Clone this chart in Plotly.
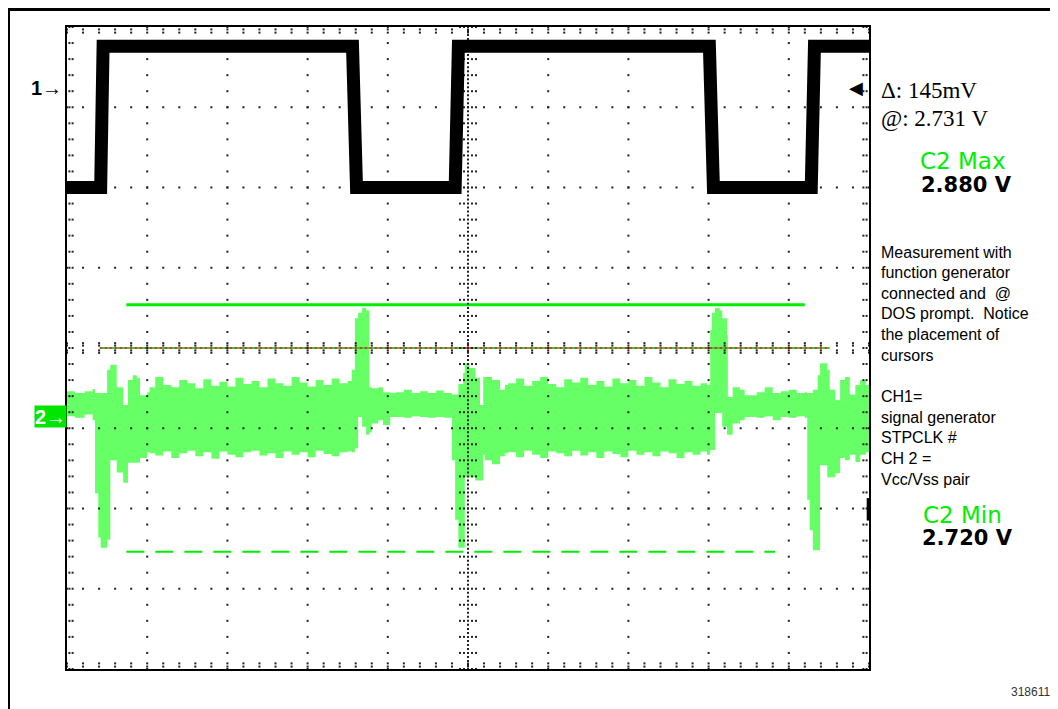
import numpy as np
import plotly.graph_objects as go

# ---------------- data (screen divisions: x 0..10, y -4..4) ----------------
# Channel 1: STPCLK# square wave
ch1_x = [0.00, 0.42, 0.45, 3.56, 3.61, 4.84, 4.88, 8.01, 8.06, 9.28, 9.32, 10.00]
ch1_y = [2.00, 2.00, 3.76, 3.76, 2.00, 2.00, 3.76, 3.76, 2.00, 2.00, 3.76, 3.76]

# Channel 2: Vcc/Vss noise envelope (top / bottom of the persistence band)
ch2_x = [0.00, 0.10, 0.22, 0.32, 0.35, 0.39, 0.42, 0.50, 0.54, 0.62, 0.70, 0.76, 0.82, 0.87, 0.91, 1.00, 1.03,
         1.10, 1.20, 1.30, 1.40, 1.50, 1.60, 1.70, 1.80, 1.90, 2.00, 2.10, 2.20, 2.30, 2.40, 2.50, 2.60, 2.70,
         2.80, 2.90, 3.00, 3.10, 3.20, 3.30, 3.40, 3.50,
         3.55, 3.59, 3.63, 3.68, 3.73, 3.77, 3.80, 3.88, 3.94, 4.03,
         4.10, 4.20, 4.30, 4.40, 4.50, 4.60, 4.70,
         4.80, 4.84, 4.88, 4.94, 4.96, 5.02, 5.09, 5.15, 5.19, 5.21, 5.30, 5.40, 5.46,
         5.50, 5.60, 5.70, 5.80, 5.90, 6.00, 6.10, 6.20, 6.30, 6.40, 6.50, 6.60, 6.70, 6.80, 6.90, 7.00,
         7.10, 7.20, 7.30, 7.40, 7.50, 7.60, 7.70, 7.80, 7.90,
         7.98, 8.02, 8.04, 8.08, 8.14, 8.17, 8.23, 8.24, 8.30, 8.39, 8.45,
         8.60, 8.70, 8.80, 8.90, 9.00, 9.10, 9.20,
         9.23, 9.26, 9.30, 9.36, 9.39, 9.43, 9.48, 9.51, 9.58, 9.64, 9.70, 9.76, 9.83, 9.89, 9.96, 10.00]
ch2_top = [-0.54, -0.56, -0.54, -0.51, -0.56, -0.56, -0.56, -0.27, -0.21, -0.49, -0.71, -0.40, -0.34, -0.37, -0.59, -0.55, -0.49,
           -0.36, -0.46, -0.49, -0.40, -0.44, -0.50, -0.39, -0.47, -0.42, -0.48, -0.37, -0.45, -0.41, -0.49, -0.38, -0.44, -0.47,
           -0.36, -0.43, -0.48, -0.40, -0.46, -0.38, -0.44, -0.41,
           -0.27, 0.37, 0.44, 0.50, 0.47, -0.49, -0.50, -0.49, -0.55, -0.56,
           -0.55, -0.52, -0.56, -0.54, -0.56, -0.53, -0.56,
           -0.58, -0.58, -0.45, -0.31, -0.19, -0.25, -0.37, -0.71, -0.36, -0.36, -0.40, -0.52, -0.46,
           -0.44, -0.38, -0.47, -0.41, -0.36, -0.45, -0.49, -0.39, -0.43, -0.37, -0.46, -0.41, -0.48, -0.38, -0.44, -0.40,
           -0.47, -0.36, -0.43, -0.49, -0.39, -0.45, -0.41, -0.47, -0.44,
           -0.46, 0.22, 0.44, 0.50, 0.47, 0.37, 0.16, -0.61, -0.49, -0.52, -0.59,
           -0.55, -0.49, -0.56, -0.54, -0.52, -0.56, -0.55,
           -0.56, -0.56, -0.52, -0.34, -0.19, -0.19, -0.27, -0.52, -0.65, -0.40, -0.36, -0.58, -0.46, -0.40, -0.46, -0.46]
ch2_bot = [-0.85, -0.87, -0.83, -0.90, -1.81, -2.36, -2.49, -2.39, -1.40, -1.55, -1.68, -1.43, -1.43, -1.43, -1.37, -1.30, -1.31,
           -1.34, -1.29, -1.37, -1.31, -1.28, -1.35, -1.30, -1.38, -1.29, -1.33, -1.36, -1.30, -1.28, -1.34, -1.31, -1.37, -1.29,
           -1.33, -1.30, -1.36, -1.28, -1.32, -1.35, -1.30, -1.29,
           -1.30, -1.25, -0.86, -0.98, -1.08, -1.05, -0.94, -0.90, -0.96, -0.86,
           -0.86, -0.87, -0.85, -0.86, -0.87, -0.86, -0.87,
           -1.40, -2.14, -2.49, -2.49, -1.61, -1.61, -1.65, -1.65, -1.33, -1.40, -1.45, -1.35, -1.31,
           -1.30, -1.36, -1.28, -1.33, -1.37, -1.29, -1.31, -1.35, -1.28, -1.34, -1.30, -1.37, -1.29, -1.32, -1.36, -1.28,
           -1.33, -1.30, -1.35, -1.29, -1.31, -1.37, -1.30, -1.33, -1.29,
           -1.33, -1.27, -1.27, -0.81, -0.81, -0.98, -1.08, -1.08, -0.94, -0.90, -0.86,
           -0.87, -0.85, -0.90, -0.86, -0.87, -0.85, -0.87,
           -1.89, -2.27, -2.52, -2.52, -1.46, -1.46, -1.61, -1.61, -1.56, -1.37, -1.40, -1.33, -1.42, -1.33, -1.30, -1.30]

# Cursors
cursor_max_y = 0.54
cursor_min_y = -2.54
cursor_max_x = [0.74, 9.20]
cursor_min_x = [0.74, 8.83]
trig_x = [0.41, 9.51]

# Readout texts
readout_delta = "Δ: 145mV"
readout_at = "@: 2.731 V"
c2_max_label, c2_max_value = "C2 Max", "2.880 V"
c2_min_label, c2_min_value = "C2 Min", "2.720 V"
note_lines = ["Measurement with", "function generator", "connected and\u00a0\u00a0@",
              "DOS prompt.\u00a0\u00a0Notice", "the placement of", "cursors", "",
              "CH1=", "signal generator", "STPCLK #", "CH 2 =", "Vcc/Vss pair"]
fig_id = "318611"

GREEN_FILL = "#66ff66"
GREEN = "#00ee00"

fig = go.Figure()

# CH2 band
fig.add_trace(go.Scatter(x=ch2_x, y=ch2_bot, mode="lines", line=dict(width=0, shape="hv", color=GREEN_FILL),
                         hoverinfo="skip"))
fig.add_trace(go.Scatter(x=ch2_x, y=ch2_top, mode="lines", line=dict(width=0, shape="hv", color=GREEN_FILL),
                         fill="tonexty", fillcolor=GREEN_FILL, hoverinfo="skip"))

# cursors
fig.add_trace(go.Scatter(x=cursor_max_x, y=[cursor_max_y] * 2, mode="lines",
                         line=dict(color=GREEN, width=3), hoverinfo="skip"))
fig.add_trace(go.Scatter(x=cursor_min_x, y=[cursor_min_y] * 2, mode="lines",
                         line=dict(color=GREEN, width=2, dash="18px,11px"), hoverinfo="skip"))
fig.add_trace(go.Scatter(x=trig_x, y=[0, 0], mode="lines",
                         line=dict(color="#33cc33", width=2), hoverinfo="skip"))
fig.add_trace(go.Scatter(x=trig_x, y=[0, 0], mode="lines",
                         line=dict(color="#ff2020", width=2, dash="2px,3px"), hoverinfo="skip"))

# graticule dots
gx, gy = [], []
steps_x = np.round(np.arange(0, 10.001, 0.2), 3)
steps_y = np.round(np.arange(-4, 4.001, 0.2), 3)
for k in range(1, 10):
    if k == 5:
        continue
    for v in steps_y:
        gx.append(k); gy.append(v)
for j in range(-3, 4):
    if j == 0:
        continue
    for v in steps_x:
        gx.append(v); gy.append(j)
for v in np.arange(-4, 4.001, 0.05):
    gx.append(5); gy.append(v)
for v in steps_y:
    for d in (-0.1, -0.05, 0.05, 0.1):
        gx.append(5 + d); gy.append(v)
for v in steps_x:
    for d in (-0.06, -0.03, 0.03, 0.06):
        gx.append(v); gy.append(d)
for v in steps_y:
    for d in (0.03, 0.07):
        gx += [d, 10 - d]; gy += [v, v]
for v in steps_x:
    for d in (0.03, 0.07):
        gx += [v, v]; gy += [-4 + d, 4 - d]
fig.add_trace(go.Scatter(x=gx, y=gy, mode="markers",
                         marker=dict(symbol="square", size=2, color="#222222", line=dict(width=0)),
                         hoverinfo="skip", cliponaxis=True))

# CH1
fig.add_trace(go.Scatter(x=ch1_x, y=ch1_y, mode="lines", line=dict(color="black", width=13),
                         hoverinfo="skip"))

# annotations placed in paper units derived from screen divisions
def PX(xd):
    return xd / 10.0

def PY(yd):
    return (yd + 4.0) / 8.0

ann = []
def A(text, x, y, size, color="black", family="Liberation Sans", xanchor="left", **kw):
    ann.append(dict(text=text, x=PX(x), y=PY(y), xref="paper", yref="paper", showarrow=False,
                    xanchor=xanchor, yanchor="middle",
                    font=dict(size=size, color=color, family=family), **kw))

A(readout_delta, 10.12, 3.21, 23, family="Liberation Serif")
A(readout_at, 10.12, 2.86, 23, family="Liberation Serif")
A(c2_max_label, 11.17, 2.33, 23, color=GREEN, family="DejaVu Sans", xanchor="center")
A("<b>" + c2_max_value + "</b>", 11.22, 2.03, 21, family="DejaVu Sans", xanchor="center")
for i, line in enumerate(note_lines):
    if line:
        A(line, 10.12, (348 - (252 + 20.65 * i)) / 80.25, 16)
A(c2_min_label, 11.16, -2.08, 23, color=GREEN, family="DejaVu Sans", xanchor="center")
A("<b>" + c2_min_value + "</b>", 11.23, -2.37, 21, family="DejaVu Sans", xanchor="center")
A(fig_id, 12.28, -4.29, 12, color="#333333", xanchor="right")
A("<b>1→</b>", -0.04, 3.24, 20, xanchor="right")
A("◀", 9.95, 3.25, 18, family="DejaVu Sans", xanchor="right")
ann.append(dict(text="<b>2→</b>", x=0, y=PY(-0.85), xref="paper", yref="paper", showarrow=False,
                xanchor="right", yanchor="middle", bgcolor="#00e600", width=31, height=21, borderpad=0,
                font=dict(size=20, color="white", family="Liberation Sans")))

shapes = [
    dict(type="line", xref="paper", yref="paper", x0=(8 - 67) / 802, x1=(1060 - 67) / 802,
         y0=(669 - 9.5) / 642, y1=(669 - 9.5) / 642, line=dict(color="black", width=3)),
    dict(type="line", xref="paper", yref="paper", x0=(8.5 - 67) / 802, x1=(8.5 - 67) / 802,
         y0=(669 - 8) / 642, y1=(669 - 712) / 642, line=dict(color="black", width=3)),
    dict(type="line", xref="x", yref="y", x0=9.99, x1=9.99, y0=-1.87, y1=-2.15,
         line=dict(color="black", width=3)),
]

axis = dict(showgrid=False, zeroline=False, showticklabels=False, ticks="", showline=True,
            mirror=True, linecolor="black", linewidth=2, fixedrange=True)
# page has an 8px body margin, so the figure is sized/offset to put the plot box at 67..869 x 27..669
fig.update_layout(width=1050, height=701, margin=dict(l=59, r=189, t=19, b=40),
                  paper_bgcolor="white", plot_bgcolor="white", showlegend=False,
                  xaxis=dict(range=[0, 10], **axis), yaxis=dict(range=[-4, 4], **axis),
                  annotations=ann, shapes=shapes)

fig.write_html("out.html")
